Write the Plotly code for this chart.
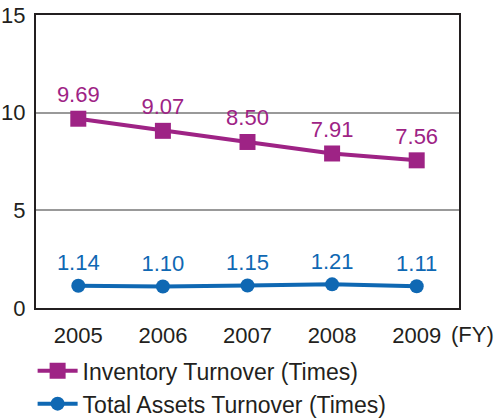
import plotly.graph_objects as go

years = ["2005", "2006", "2007", "2008", "2009"]
inventory = [9.69, 9.07, 8.50, 7.91, 7.56]
total_assets = [1.14, 1.10, 1.15, 1.21, 1.11]
inv_labels = ["9.69", "9.07", "8.50", "7.91", "7.56"]
ta_labels = ["1.14", "1.10", "1.15", "1.21", "1.11"]

PURPLE = "#9E2385"
BLUE = "#0F68B3"
FONT = "Liberation Sans"

fig = go.Figure()
fig.add_trace(go.Scatter(
    x=years, y=inventory, mode="lines+markers+text",
    name="Inventory Turnover (Times)",
    line=dict(color=PURPLE, width=4),
    marker=dict(symbol="square", size=16, color=PURPLE),
    text=inv_labels, textposition="top center",
    textfont=dict(color=PURPLE, size=22, family=FONT),
    cliponaxis=False,
))
fig.add_trace(go.Scatter(
    x=years, y=total_assets, mode="lines+markers+text",
    name="Total Assets Turnover (Times)",
    line=dict(color=BLUE, width=4),
    marker=dict(symbol="circle", size=14, color=BLUE),
    text=ta_labels, textposition="top center",
    textfont=dict(color=BLUE, size=22, family=FONT),
    cliponaxis=False,
))

fig.update_layout(
    width=499, height=419,
    margin=dict(l=36, r=40, t=15, b=111, autoexpand=False),
    paper_bgcolor="white", plot_bgcolor="white",
    font=dict(family=FONT, size=22, color="#231F20"),
    showlegend=True,
    legend=dict(x=-0.008, y=-0.141, xanchor="left", yanchor="top",
                font=dict(size=23, color="#231F20"),
                tracegroupgap=6, itemwidth=40, bgcolor="rgba(0,0,0,0)"),
    xaxis=dict(type="category", range=[-0.5, 4.5], showgrid=False,
               showline=True, linecolor="#231F20", linewidth=2, mirror=True,
               ticks="", ticklabelstandoff=7, zeroline=False, automargin=False,
               tickfont=dict(size=22)),
    yaxis=dict(range=[0, 15], tickvals=[0, 5, 10, 15], showgrid=True,
               gridcolor="#999999", gridwidth=2,
               showline=True, linecolor="#231F20", linewidth=2, mirror=True,
               ticks="", ticklabelstandoff=4, zeroline=False, automargin=False,
               tickfont=dict(size=22)),
    annotations=[dict(text="(FY)", xref="paper", yref="paper",
                      x=1.033, y=-0.092, showarrow=False,
                      xanchor="center", yanchor="middle",
                      font=dict(size=22, color="#231F20"))],
)

fig.write_html("out.html", config={"displayModeBar": False},
               post_script="document.body.style.margin='0';document.body.style.overflow='hidden';")
